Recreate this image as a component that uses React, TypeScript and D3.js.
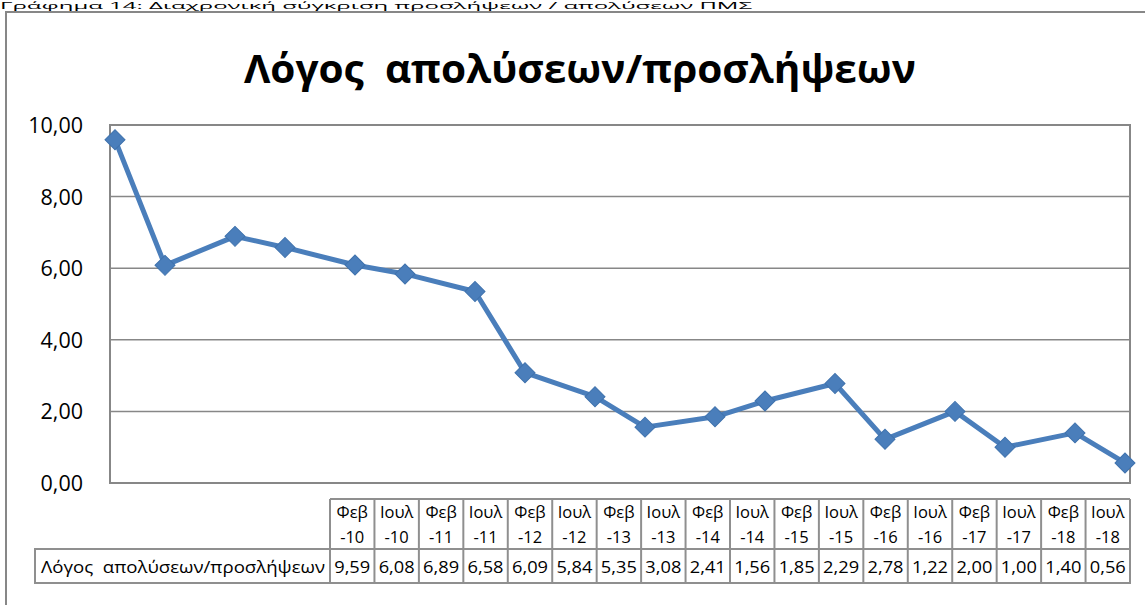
import React, { useRef, useEffect } from 'react';
import * as d3 from 'd3';

// periods shown in the data table / x axis
const categories = [
  'Φεβ-10', 'Ιουλ-10', 'Φεβ-11', 'Ιουλ-11', 'Φεβ-12', 'Ιουλ-12',
  'Φεβ-13', 'Ιουλ-13', 'Φεβ-14', 'Ιουλ-14', 'Φεβ-15', 'Ιουλ-15',
  'Φεβ-16', 'Ιουλ-16', 'Φεβ-17', 'Ιουλ-17', 'Φεβ-18', 'Ιουλ-18'
];
const ratio = [9.59, 6.08, 6.89, 6.58, 6.09, 5.84, 5.35, 3.08, 2.41, 1.56, 1.85, 2.29, 2.78, 1.22, 2.00, 1.00, 1.40, 0.56];
const yTicks = [0, 2, 4, 6, 8, 10];

const seriesName = 'Λόγος  απολύσεων/προσλήψεων';
const title = 'Λόγος  απολύσεων/προσλήψεων';
const caption = 'Γράφημα 14: Διαχρονική σύγκριση προσλήψεων / απολύσεων ΠΜΣ';

const monthIndex: Record<string, number> = { 'Φεβ': 1, 'Ιουλ': 6 };

const W = 1145;
const H = 605;

const App: React.FC = () => {
  const svgRef = useRef<SVGSVGElement>(null);

  useEffect(() => {
    if (!svgRef.current) return;
    const svg = d3.select(svgRef.current);
    svg.selectAll('*').remove();

    const font = '"Open Sans", "Noto Sans", sans-serif';
    const grey = '#878787';
    const blue = '#4a7ebb';
    const greek = d3.formatLocale({ decimal: ',', thousands: '.', grouping: [3], currency: ['', '€'] });
    const fmt = greek.format('.2f');

    const plot = { left: 110, right: 1130, top: 125, bottom: 483 };

    // months counted from Jan 2010 (date axis in the original)
    const months = categories.map(c => {
      const [m, y] = c.split('-');
      return (+y - 10) * 12 + monthIndex[m];
    });

    const x = d3.scaleLinear()
      .domain([d3.min(months)! - 0.5, d3.max(months)! + 0.5])
      .range([plot.left, plot.right]);
    const y = d3.scaleLinear().domain([0, 10]).range([plot.bottom, plot.top]);

    // caption above the chart
    svg.append('text')
      .attr('x', 0).attr('y', 9.3)
      .attr('font-family', font).attr('font-size', 9)
      .attr('textLength', 752).attr('lengthAdjust', 'spacingAndGlyphs')
      .text(caption);

    // chart border
    svg.append('rect')
      .attr('x', 6).attr('y', 12)
      .attr('width', 1200).attr('height', 700)
      .attr('fill', 'none').attr('stroke', grey).attr('stroke-width', 2);

    svg.append('text')
      .attr('x', 580).attr('y', 83)
      .attr('text-anchor', 'middle')
      .style('white-space', 'pre')
      .attr('font-family', font).attr('font-weight', 'bold').attr('font-size', 40)
      .attr('textLength', 672).attr('lengthAdjust', 'spacingAndGlyphs')
      .text(title);

    // gridlines + y labels
    svg.append('g').selectAll('line')
      .data(yTicks.filter(t => t > 0 && t < 10))
      .join('line')
      .attr('x1', plot.left).attr('x2', plot.right)
      .attr('y1', d => y(d)).attr('y2', d => y(d))
      .attr('stroke', grey).attr('stroke-width', 1.5);

    svg.append('rect')
      .attr('x', plot.left).attr('y', plot.top)
      .attr('width', plot.right - plot.left).attr('height', plot.bottom - plot.top)
      .attr('fill', 'none').attr('stroke', grey).attr('stroke-width', 2);

    svg.append('g').selectAll('text')
      .data(yTicks)
      .join('text')
      .attr('x', 83).attr('y', d => y(d) + 8)
      .attr('text-anchor', 'end')
      .attr('font-family', font).attr('font-size', 21.5)
      .text(d => fmt(d));

    // series
    const line = d3.line<number>()
      .x((_, i) => x(months[i]))
      .y(d => y(d));

    svg.append('path')
      .datum(ratio)
      .attr('d', line)
      .attr('fill', 'none')
      .attr('stroke', blue)
      .attr('stroke-width', 5)
      .attr('stroke-linejoin', 'round');

    svg.append('g').selectAll('path')
      .data(ratio)
      .join('path')
      .attr('d', d3.symbol(d3.symbolSquare, 200))
      .attr('transform', (d, i) => `translate(${x(months[i])},${y(d)}) rotate(45)`)
      .attr('fill', blue)
      .attr('stroke', '#3f72ad')
      .attr('stroke-width', 1);

    // data table
    const tLeft = 330;
    const tRight = 1130;
    const col = d3.scaleBand<number>()
      .domain(d3.range(categories.length))
      .range([tLeft, tRight]);
    const hTop = 499, hBot = 549, rBot = 583, labelLeft = 35;
    const tbl = svg.append('g').attr('font-family', font).attr('font-size', 16.5);
    const border = { stroke: '#8f8f8f', w: 2 };

    tbl.append('line').attr('x1', tLeft).attr('x2', tRight).attr('y1', hTop).attr('y2', hTop)
      .attr('stroke', border.stroke).attr('stroke-width', border.w);
    tbl.append('rect').attr('x', labelLeft).attr('y', hBot)
      .attr('width', tRight - labelLeft).attr('height', rBot - hBot)
      .attr('fill', 'none').attr('stroke', border.stroke).attr('stroke-width', border.w);
    tbl.selectAll('line.v')
      .data(d3.range(categories.length + 1))
      .join('line')
      .attr('class', 'v')
      .attr('x1', i => (i < categories.length ? col(i)! : tRight))
      .attr('x2', i => (i < categories.length ? col(i)! : tRight))
      .attr('y1', hTop).attr('y2', rBot)
      .attr('stroke', border.stroke).attr('stroke-width', border.w);

    const cx = (i: number) => col(i)! + col.bandwidth() / 2;
    tbl.selectAll('text.m')
      .data(categories)
      .join('text')
      .attr('class', 'm')
      .attr('x', (_, i) => cx(i)).attr('y', 518)
      .attr('text-anchor', 'middle')
      .text(d => d.split('-')[0]);
    tbl.selectAll('text.yr')
      .data(categories)
      .join('text')
      .attr('class', 'yr')
      .attr('x', (_, i) => cx(i)).attr('y', 543)
      .attr('text-anchor', 'middle')
      .text(d => '-' + d.split('-')[1]);
    tbl.selectAll('text.v')
      .data(ratio)
      .join('text')
      .attr('class', 'v')
      .attr('x', (_, i) => cx(i)).attr('y', 573)
      .attr('text-anchor', 'middle')
      .attr('textLength', 36).attr('lengthAdjust', 'spacingAndGlyphs')
      .text(d => fmt(d));
    tbl.append('text')
      .attr('x', 41).attr('y', 573)
      .style('white-space', 'pre')
      .attr('textLength', 284).attr('lengthAdjust', 'spacingAndGlyphs')
      .text(seriesName);
  }, []);

  return (
    <svg
      ref={svgRef}
      width={W}
      height={H}
      style={{ position: 'absolute', left: 0, top: 0, background: '#fff' }}
    />
  );
};

export default App;
